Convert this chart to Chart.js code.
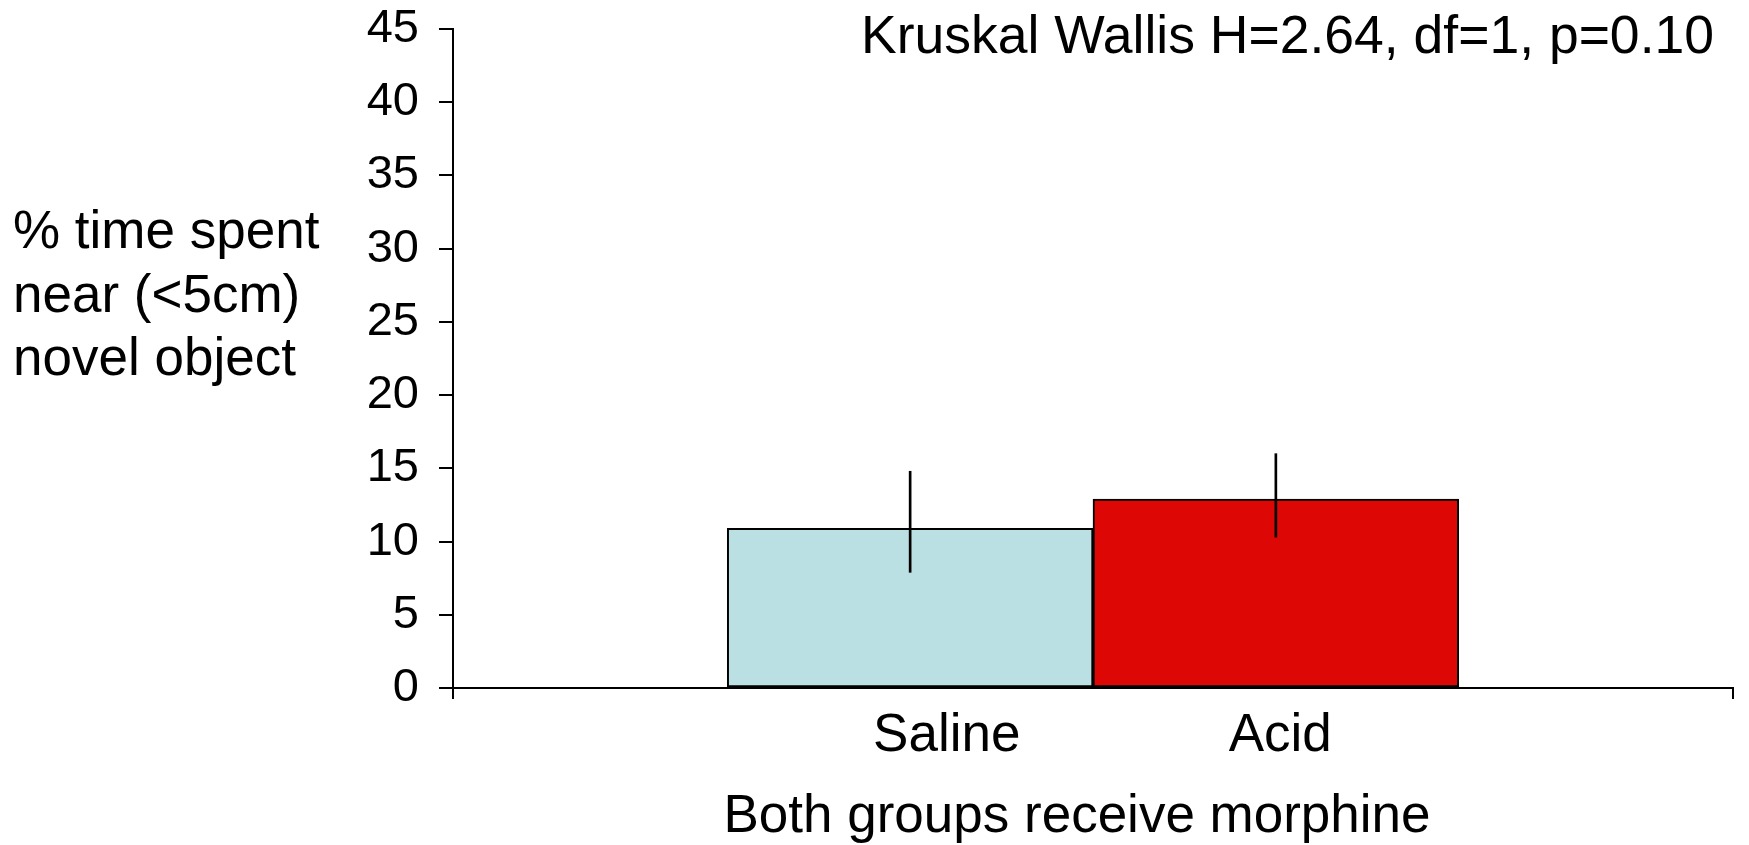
<!DOCTYPE html>
<html>
<head>
<meta charset="utf-8">
<script src="https://cdn.jsdelivr.net/npm/chart.js@4.4.0/dist/chart.umd.min.js"></script>
<style>
  body { margin: 0; background: #fff; }
  canvas { display: block; }
</style>
</head>
<body>
<canvas id="barChart" width="1749" height="845"></canvas>
<script>
// data
const categories = ['Saline', 'Acid'];
const values = [10.9, 12.9];
const errLow = [7.9, 10.3];
const errHigh = [14.8, 16.0];
const yTitleLines = ['% time spent', 'near (<5cm)', 'novel object'];
const xTitle = 'Both groups receive morphine';
const statsNote = 'Kruskal Wallis H=2.64, df=1, p=0.10';

const barColors = ['#bbe0e3', '#dd0806'];
const FONT = "'Liberation Sans', Arial, sans-serif";

// the Saline label sits a little right of its bar in the original
const labelPos = [0.1, 1.012];

const textPlugin = {
  id: 'textPlugin',
  afterDraw(chart) {
    const ctx = chart.ctx;
    const x = chart.scales.x;
    ctx.save();
    // end ticks of the x axis
    ctx.strokeStyle = '#000';
    ctx.lineWidth = 2;
    ctx.beginPath();
    ctx.moveTo(x.left, x.top);
    ctx.lineTo(x.left, x.top + 11);
    ctx.moveTo(x.right, x.top);
    ctx.lineTo(x.right, x.top + 11);
    ctx.stroke();

    ctx.fillStyle = '#000';
    ctx.font = '53px ' + FONT;
    ctx.textBaseline = 'alphabetic';
    ctx.textAlign = 'left';
    yTitleLines.forEach((line, i) => {
      ctx.fillText(line, 13, 248 + i * 63.5);
    });
    // axis title is centred a bit left of the plot centre in the original
    ctx.textAlign = 'center';
    ctx.fillText(xTitle, 1077, 832);
    ctx.font = '53.5px ' + FONT;
    ctx.textAlign = 'right';
    ctx.fillText(statsNote, 1714, 53);
    ctx.restore();
  }
};

// one category step wide, so the two bars touch
const stepWidth = (ctx) => {
  const s = ctx.chart.scales.x;
  return Math.abs(s.getPixelForValue(1) - s.getPixelForValue(0));
};

new Chart(document.getElementById('barChart'), {
  type: 'bar',
  data: {
    datasets: [
      {
        label: 'sem',
        data: categories.map((c, i) => ({ x: i, y: [errLow[i], errHigh[i]] })),
        backgroundColor: '#000',
        barThickness: 2,
        grouped: false,
        order: 0
      },
      {
        label: 'mean',
        data: categories.map((c, i) => ({ x: i, y: values[i] })),
        backgroundColor: barColors,
        borderColor: '#000',
        borderWidth: 2,
        borderSkipped: false,
        barThickness: stepWidth,
        grouped: false,
        order: 1
      }
    ]
  },
  options: {
    responsive: false,
    animation: false,
    layout: { padding: { top: 29, right: 16, bottom: 0, left: 0 } },
    plugins: {
      legend: { display: false },
      tooltip: { enabled: false }
    },
    scales: {
      x: {
        type: 'linear',
        offset: false,
        min: -1.25,
        max: 2.25,
        afterBuildTicks: (scale) => {
          scale.ticks = labelPos.map(v => ({ value: v }));
        },
        afterFit: (scale) => {
          scale.height = 157;
          scale.paddingLeft = 0;
          scale.paddingRight = 0;
        },
        grid: { display: false, drawTicks: false, offset: false },
        border: { display: true, color: '#000', width: 2 },
        ticks: {
          color: '#000',
          padding: 17,
          maxRotation: 0,
          autoSkip: false,
          font: { family: FONT, size: 53 },
          callback: (v, i) => categories[i]
        }
      },
      y: {
        min: 0,
        max: 45,
        afterFit: (scale) => {
          scale.width = 453;
          scale.paddingTop = 0;
          scale.paddingBottom = 0;
        },
        grid: {
          drawOnChartArea: false,
          drawTicks: true,
          tickLength: 14,
          color: '#000',
          lineWidth: 2
        },
        border: { display: true, color: '#000', width: 2 },
        ticks: {
          stepSize: 5,
          color: '#000',
          padding: 20,
          font: { family: FONT, size: 47 }
        }
      }
    }
  },
  plugins: [textPlugin]
});
</script>
</body>
</html>
